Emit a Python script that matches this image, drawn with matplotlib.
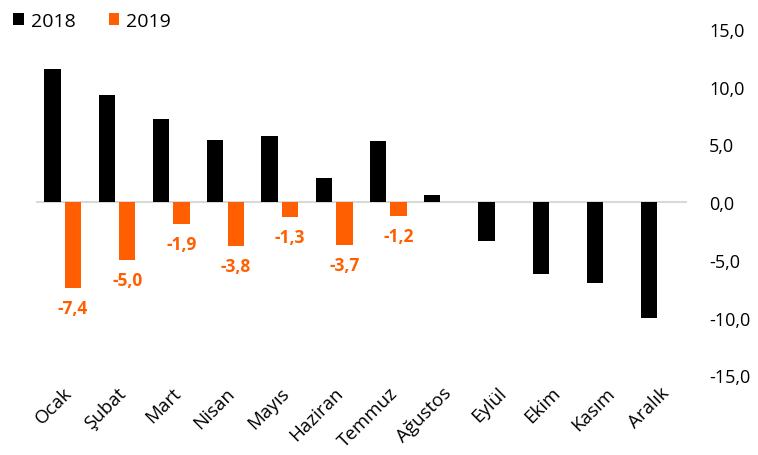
import matplotlib.pyplot as plt
import numpy as np

months = ["Ocak", "Şubat", "Mart", "Nisan", "Mayıs", "Haziran", "Temmuz",
          "Ağustos", "Eylül", "Ekim", "Kasım", "Aralık"]
vals_2018 = [11.5, 9.3, 7.2, 5.4, 5.7, 2.1, 5.3, 0.6, -3.4, -6.2, -7.0, -10.0]
vals_2019 = [-7.4, -5.0, -1.9, -3.8, -1.3, -3.7, -1.2]

black = "#000000"
orange = "#FF5F00"
plt.rcParams['font.family'] = ['Open Sans', 'DejaVu Sans']

fig = plt.figure(figsize=(7.58, 4.56), dpi=100)
ax = fig.add_axes([0.047, 0.175, 0.859, 0.759])

x = np.arange(len(months))
x19 = np.arange(len(vals_2019))
w = 0.3
ax.bar(x - 0.19, vals_2018, w, color=black, label="2018", zorder=2)
ax.bar(x19 + 0.19, vals_2019, w, color=orange, label="2019", zorder=2)

# labels under the 2019 bars
for xi, v in zip(x19, vals_2019):
    ax.annotate(f"{v:.1f}".replace(".", ","), (xi + 0.19, v), xytext=(0, -8),
                textcoords="offset points", ha="center", va="top",
                color=orange, fontsize=12.5, fontweight="bold")

ax.axhline(0, color="#d9d9d9", lw=1.5, zorder=1)
ax.set_xlim(-0.5, len(months) - 0.5)
ax.set_ylim(-15, 15)
ax.set_yticks(np.arange(-15, 16, 5))
ax.set_yticklabels([f"{t:.1f}".replace(".", ",") for t in np.arange(-15, 16, 5)])
ax.yaxis.tick_right()
ax.tick_params(axis="y", length=0, pad=16, labelsize=13)
ax.tick_params(axis="x", length=0, pad=6, labelsize=13.5)
ax.set_xticks(x)
ax.set_xticklabels(months, rotation=45, ha="right", rotation_mode="anchor")
for s in ax.spines.values():
    s.set_visible(False)

ax.legend(loc="upper left", bbox_to_anchor=(-0.061, 1.1), ncol=2, frameon=False,
          fontsize=14, handlelength=0.55, handleheight=0.55, handletextpad=0.35,
          columnspacing=1.7)

fig.savefig("out.png", dpi=100)
